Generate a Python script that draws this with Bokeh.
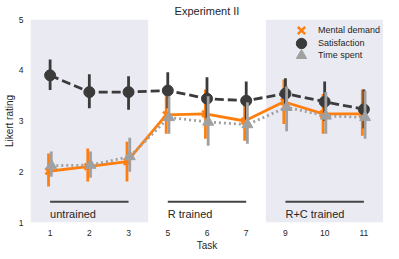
from bokeh.plotting import figure
from bokeh.models import (BoxAnnotation, FixedTicker, Legend, LegendItem)
from bokeh.core.properties import value
from bokeh.embed import file_html
from bokeh.resources import INLINE

tasks = ["1", "2", "3", "5", "6", "7", "9", "10", "11"]

mental = [2.01, 2.10, 2.20, 3.12, 3.14, 3.00, 3.38, 3.14, 3.14]
mental_lo = [1.71, 1.81, 1.81, 2.75, 2.65, 2.61, 2.94, 2.75, 2.71]
mental_hi = [2.36, 2.46, 2.59, 3.49, 3.62, 3.33, 3.82, 3.53, 3.62]

satis = [3.90, 3.57, 3.57, 3.60, 3.44, 3.40, 3.54, 3.38, 3.23]
satis_lo = [3.61, 3.25, 3.22, 3.25, 3.05, 3.03, 3.24, 3.00, 2.85]
satis_hi = [4.21, 3.92, 3.88, 3.96, 3.86, 3.78, 3.84, 3.78, 3.62]

timesp = [2.12, 2.13, 2.30, 3.07, 2.98, 2.93, 3.27, 3.10, 3.07]
time_lo = [1.90, 1.88, 2.00, 2.75, 2.51, 2.55, 2.80, 2.75, 2.65]
time_hi = [2.40, 2.40, 2.67, 3.49, 3.49, 3.37, 3.68, 3.57, 3.59]

series_names = ["Mental demand", "Satisfaction", "Time spent"]

groups = ["untrained", "R trained", "R+C trained"]
group_first = ["1", "5", "9"]
group_last = ["3", "7", "11"]

ORANGE = "#ff7f0e"
DARK = "#3b3b3b"
GREY = "#a0a0a0"
SHADE = "#eaeaf2"
FONT = "Liberation Sans"

idx = {t: i for i, t in enumerate(tasks)}
xs = [idx[t] for t in tasks]

p = figure(width=383, height=253, output_backend="svg", toolbar_location=None,
           x_range=(-0.5, 8.5), y_range=(1, 5),
           min_border_left=0, min_border_right=0, min_border_top=0, min_border_bottom=0,
           title="Experiment II")
p.title.align = "center"
p.title.text_font = FONT
p.title.text_font_size = "11px"
p.title.text_font_style = "normal"
p.title.text_color = "#262626"
p.title.standoff = 5
p.title.offset = 0
p.outline_line_color = None
p.background_fill_color = "white"
p.xgrid.grid_line_color = None
p.ygrid.grid_line_color = None

for l, r in [(-0.5, 2.5), (5.5, 8.5)]:
    p.add_layout(BoxAnnotation(left=l, right=r, fill_color=SHADE, fill_alpha=1.0,
                               line_alpha=0, level="underlay"))

for ax in (p.xaxis[0], p.yaxis[0]):
    ax.axis_line_color = None
    ax.major_tick_line_color = None
    ax.minor_tick_line_color = None
    ax.major_tick_out = 0
    ax.major_tick_in = 0
    ax.minor_tick_out = 0
    ax.minor_tick_in = 0
    ax.major_label_text_font = FONT
    ax.major_label_text_font_size = "8.5px"
    ax.major_label_text_color = "#262626"
    ax.axis_label_text_font = FONT
    ax.axis_label_text_font_size = "10px"
    ax.axis_label_text_font_style = "normal"
    ax.axis_label_text_color = "#262626"
    ax.axis_label_standoff = 1

p.xaxis.major_label_standoff = 7
p.yaxis.major_label_standoff = 7
p.xaxis.ticker = FixedTicker(ticks=xs)
p.xaxis.major_label_overrides = {i: t for i, t in enumerate(tasks)}
p.yaxis.ticker = FixedTicker(ticks=[1, 2, 3, 4, 5])
p.xaxis.axis_label = "Task"
p.yaxis.axis_label = "Likert rating"

def series(vals, lo, hi, color, dash, marker, size, off):
    x = [v + off for v in xs]
    p.line(x, vals, line_color=color, line_width=2.8, line_dash=dash)
    p.segment(x0=x, x1=x, y0=lo, y1=hi, line_color=color, line_width=2.8)
    if marker == "x":
        r = p.scatter(x, vals, marker="x", size=size, line_color=color, line_width=2.5)
    else:
        r = p.scatter(x, vals, marker=marker, size=size, fill_color=color, line_color=color)
    return r

r_m = series(mental, mental_lo, mental_hi, ORANGE, "solid", "x", 9, -0.04)
r_s = series(satis, satis_lo, satis_hi, DARK, "9 4", "circle", 11, 0.0)
r_t = series(timesp, time_lo, time_hi, GREY, "2 3", "triangle", 11, 0.03)

# group bars and labels
gx0 = [idx[t] for t in group_first]
gx1 = [idx[t] for t in group_last]
p.segment(x0=gx0, x1=gx1, y0=[1.41] * 3, y1=[1.41] * 3, line_color="#444444", line_width=2)
p.text(x=gx0, y=[1.17] * 3, text=groups, text_font=value(FONT), text_font_size="11px",
       text_color="#262626", text_baseline="middle", text_align="left")

# legend: one single-item legend per row so rows can sit closer than the key size
legend_y = [179, 166.5, 154]
for name, rend, ly in zip(series_names, [r_m, r_s, r_t], legend_y):
    lg = Legend(items=[LegendItem(label=name, renderers=[rend])], location=(258, ly))
    lg.background_fill_alpha = 0
    lg.border_line_color = None
    lg.label_text_font = FONT
    lg.label_text_font_size = "9px"
    lg.label_text_color = "#262626"
    lg.label_height = 12
    lg.glyph_height = 26
    lg.glyph_width = 26
    lg.padding = 0
    lg.margin = 0
    lg.label_standoff = 4
    p.add_layout(lg)

open("out.html", "w").write(file_html(p, INLINE))
